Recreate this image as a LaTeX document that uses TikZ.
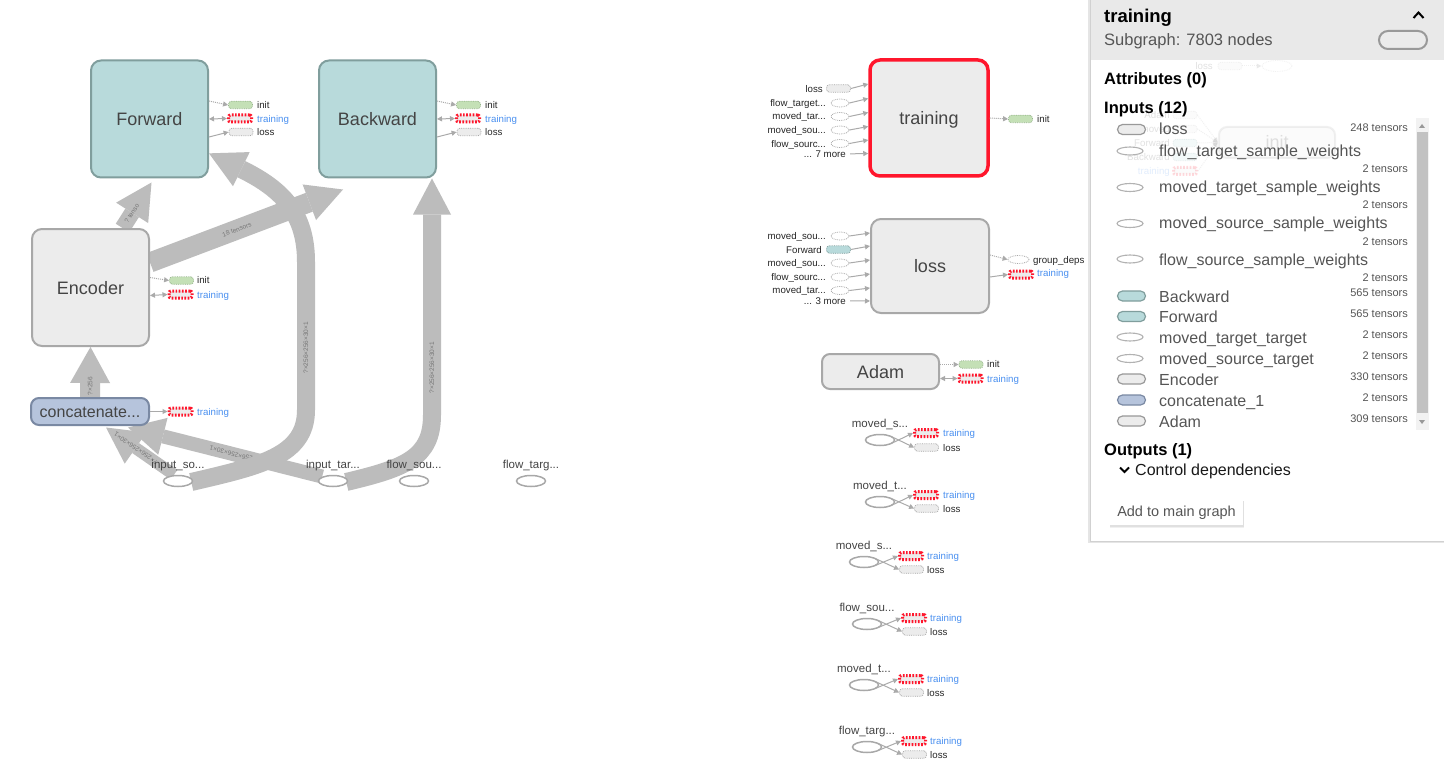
\documentclass[tikz,border=0pt]{standalone}
\usepackage{fontspec}
\setmainfont{Liberation Sans}
\usetikzlibrary{arrows.meta,shapes.geometric,calc,backgrounds}
\newcommand\myfs[1]{\fontsize{#1}{#1}\selectfont}
\definecolor{tealfill}{RGB}{184,218,219}
\definecolor{tealdraw}{RGB}{128,158,157}
\definecolor{greyfill}{RGB}{236,236,236}
\definecolor{greydraw}{RGB}{168,168,168}
\definecolor{catfill}{RGB}{182,196,220}
\definecolor{catdraw}{RGB}{122,137,163}
\definecolor{tred}{RGB}{255,22,44}
\definecolor{tblue}{RGB}{74,144,240}
\definecolor{pgreen}{RGB}{196,224,182}
\definecolor{pgreenb}{RGB}{150,180,140}
\definecolor{band}{RGB}{188,188,188}
\definecolor{txt}{RGB}{68,68,68}
\definecolor{ltxt}{RGB}{85,85,85}
\definecolor{sarrow}{RGB}{170,170,170}
\definecolor{hdr}{RGB}{233,233,233}
\definecolor{elab}{RGB}{120,120,120}
\tikzset{
  bigbox/.style={rectangle, rounded corners=10pt, minimum width=117pt, minimum height=117pt, line width=2pt, font=\myfs{18}, text=txt, inner sep=0pt, text height=13pt, text depth=0pt},
  tealbox/.style={bigbox, fill=tealfill, draw=tealdraw},
  greybox/.style={bigbox, fill=greyfill, draw=greydraw},
  gpill/.style={rectangle, rounded corners=3pt, minimum width=24pt, minimum height=7.5pt, inner sep=0pt, fill=pgreen, draw=pgreenb, densely dotted, line width=0.8pt},
  tpill/.style={gpill, fill=tealfill, draw=tealdraw},
  lpill/.style={gpill, fill=greyfill, draw=greydraw},
  rpill/.style={rectangle, rounded corners=2pt, minimum width=23pt, minimum height=7pt, inner sep=0pt, fill=greyfill, draw=tred, line width=3pt, dash pattern=on 1.7pt off 1.5pt},
  dell/.style={ellipse, minimum width=18pt, minimum height=8pt, inner sep=0pt, draw=greydraw, densely dotted, line width=0.8pt, fill=white},
  bell/.style={ellipse, minimum width=29pt, minimum height=11pt, inner sep=0pt, draw=greydraw, line width=1.5pt, fill=white},
  slbl/.style={inner sep=0pt, font=\myfs{9.7}, text=black!85, anchor=mid west},
  tlbl/.style={slbl, text=tblue},
  rlbl/.style={inner sep=0pt, font=\myfs{9.7}, text=black!85, anchor=mid east},
  glbl/.style={inner sep=0pt, font=\myfs{11.5}, text=txt, anchor=mid},
  sarr/.style={draw=sarrow, line width=1pt, -{Triangle[length=5pt,width=5pt]}},
  sdot/.style={sarr, densely dotted},
  sbi/.style={draw=sarrow, line width=1pt, {Triangle[length=5pt,width=5pt]}-{Triangle[length=5pt,width=5pt]}},
  bigedge/.style={draw=band, line width=18pt, -{Triangle[length=36pt,width=38pt,line width=0pt]}},
  elbl/.style={sloped, inner sep=0pt, font=\myfs{6.5}, text=elab},
  prow/.style={inner sep=0pt, font=\myfs{16}, text=ltxt, anchor=mid west},
  pcount/.style={inner sep=0pt, font=\myfs{11}, text=ltxt, anchor=mid east},
  phead/.style={inner sep=0pt, font=\bfseries\myfs{16.5}, text=black, anchor=mid west},
  picon/.style={rectangle, rounded corners=5pt, minimum width=28pt, minimum height=10pt, inner sep=0pt, line width=1.2pt, fill=greyfill, draw=black!40},
  pell/.style={ellipse, minimum width=26pt, minimum height=8pt, inner sep=0pt, line width=1.1pt, fill=white, draw=black!30},
}
\begin{document}
\begin{tikzpicture}[x=1pt,y=-1pt]
\useasboundingbox (0,0) rectangle (1444,773);

% ---------- left graph: main nodes
\node[tealbox] (fwd) at (149.5,119) {Forward};
\node[tealbox] (bwd) at (377.5,119) {Backward};
\node[greybox] (enc) at (90.5,287.5) {Encoder};
\node[bigbox, fill=catfill, draw=catdraw, rounded corners=8pt, minimum width=118pt, minimum height=27pt, font=\myfs{16}, text height=11.5pt] (cat) at (90,411.5) {concatenate...};

\node[bell] (isrc) at (178,481) {};
\node[glbl] (isrcl) at (178,466) {input\_so...};
\node[bell] (itar) at (333,481) {};
\node[glbl] (itarl) at (333,466) {input\_tar...};
\node[bell] (fsrc) at (414,481) {};
\node[glbl] (fsrcl) at (414,466) {flow\_sou...};
\node[bell] (ftar) at (531,481) {};
\node[glbl] (ftarl) at (531,466) {flow\_targ...};

% annotations of Forward
\node[gpill] (fgp) at (240.5,105) {};
\node[rpill] (frp) at (240,118.5) {};
\node[lpill] (flp) at (241,132) {};
\draw[sdot] ($(fwd.east)+(0,-18)$) -- (fgp.west);
\draw[sbi] (fwd.east) -- (frp.west);
\draw[sarr] ($(fwd.east)+(0,18)$) -- (flp.west);
\node[slbl] (fgpl) at (257,105.5) {init};
\node[tlbl] (frpl) at (257,119.5) {training};
\node[slbl] (flpl) at (257,133) {loss};

% annotations of Backward
\node[gpill] (bgp) at (468.5,105) {};
\node[rpill] (brp) at (468,118.5) {};
\node[lpill] (blp) at (469,132) {};
\draw[sdot] ($(bwd.east)+(0,-18)$) -- (bgp.west);
\draw[sbi] (bwd.east) -- (brp.west);
\draw[sarr] ($(bwd.east)+(0,18)$) -- (blp.west);
\node[slbl] (bgpl) at (485,105.5) {init};
\node[tlbl] (brpl) at (485,119.5) {training};
\node[slbl] (blpl) at (485,133) {loss};

% annotations of Encoder
\node[gpill] (egp) at (181.5,280.5) {};
\node[rpill] (erp) at (180.5,294.5) {};
\draw[sdot] ($(enc.east)+(0,-10)$) -- (egp.west);
\draw[sbi] ($(enc.east)+(0,8)$) -- (erp.west);
\node[slbl] (egpl) at (197,281) {init};
\node[tlbl] (erpl) at (197,295.5) {training};

% annotation of concatenate
\node[rpill] (crp) at (180.5,411.5) {};
\draw[sarr] (cat.east) -- (crp.west);
\node[tlbl] (crpl) at (197,412.5) {training};

% ---------- thick edges (background)
\begin{scope}[on background layer]
\fill[white] (0,0) rectangle (1444,773);
\draw[bigedge, line width=12pt] ($(isrc.north)+(-4,0)$) -- node[elbl, allow upside down, pos=0.56]{?×256×256×30×1} ($(cat.south)+(16,1.5)$);
\draw[bigedge, line width=14pt] (itar.north west) -- node[elbl, allow upside down, pos=0.45]{?×256×256×30×1} ($(cat.south)+(38,1.5)$);
\draw[bigedge, line width=20pt, -{Triangle[length=36pt,width=40pt,line width=0pt]}] (cat.north) -- node[elbl, pos=0.22]{?×256} (enc.south);
\draw[bigedge] ($(isrc.east)+(-2,1)$) .. controls (260,466) and (306,456) .. (306,410) -- node[elbl, pos=0.42]{?×256×256×30×1} (306,262) .. controls (306,215) and (284,190) .. (fwd.-30);
\draw[bigedge] ($(itar.east)+(-2,1)$) .. controls (405,468) and (432,458) .. (432,415) -- node[elbl, pos=0.2]{?×256×256×30×1} ($(bwd.south)+(54.5,0)$);
\draw[bigedge, line width=16pt] ($(enc.north)+(32,0)$) -- node[elbl, pos=0.32]{? tenso} ($(fwd.south)+(2,4)$);
\draw[bigedge, line width=20pt] ($(enc.east)+(0,-25)$) -- node[elbl, pos=0.45]{18 tensors} ($(bwd.south west)+(25,11)$);
\end{scope}

% ---------- middle: training, loss, Adam
\node[greybox, draw=tred, line width=3.5pt, minimum width=118pt, minimum height=116pt] (trn) at (929,118) {training};
\node[greybox, minimum width=118pt, minimum height=94pt] (lossb) at (930,266) {loss};
\node[greybox, minimum width=117pt, minimum height=35pt, rounded corners=8pt] (adam) at (880.5,371.5) {Adam};

% inputs of training
\node[lpill] (ti1) at (838.5,88.5) {};
\node[rlbl] (ti1l) at (823,89.5) {loss};
\node[dell] (ti2) at (840,103) {};
\node[rlbl] (ti2l) at (826,103.5) {flow\_target...};
\node[dell] (ti3) at (840,116.5) {};
\node[rlbl] (ti3l) at (826,117) {moved\_tar...};
\node[dell] (ti4) at (840,130) {};
\node[rlbl] (ti4l) at (826,130.5) {moved\_sou...};
\node[dell] (ti5) at (840,143.5) {};
\node[rlbl] (ti5l) at (826,144.5) {flow\_sourc...};
\node[rlbl] (ti6l) at (846,154.5) {... 7 more};
\draw[sarr] (ti1.east) -- ($(trn.west)+(0,-34)$);
\draw[sarr] (ti2.east) -- ($(trn.west)+(0,-19.5)$);
\draw[sarr] (ti3.east) -- ($(trn.west)+(0,-5.5)$);
\draw[sarr] (ti4.east) -- ($(trn.west)+(0,8.5)$);
\draw[sarr] (ti5.east) -- ($(trn.west)+(0,22)$);
\draw[sarr] ([xshift=4pt]ti6l.east) -- ($(trn.west)+(0,35.5)$);
\node[gpill] (tgp) at (1020.5,119) {};
\draw[sdot] (trn.east) -- (tgp.west);
\node[slbl] (tgpl) at (1037,119.5) {init};

% inputs of loss
\node[dell] (li1) at (840,236) {};
\node[rlbl] (li1l) at (826,236.5) {moved\_sou...};
\node[tpill] (li2) at (838.5,249.5) {};
\node[rlbl] (li2l) at (822,250.5) {Forward};
\node[dell] (li3) at (840,263) {};
\node[rlbl] (li3l) at (826,263.5) {moved\_sou...};
\node[dell] (li4) at (840,277) {};
\node[rlbl] (li4l) at (826,277.5) {flow\_sourc...};
\node[dell] (li5) at (840,290.5) {};
\node[rlbl] (li5l) at (826,291) {moved\_tar...};
\node[rlbl] (li6l) at (846,301.5) {... 3 more};
\draw[sarr] (li1.east) -- ($(lossb.west)+(0,-33)$);
\draw[sarr] (li2.east) -- ($(lossb.west)+(0,-20)$);
\draw[sarr] (li3.east) -- ($(lossb.west)+(0,-6)$);
\draw[sarr] (li4.east) -- ($(lossb.west)+(0,8)$);
\draw[sarr] (li5.east) -- ($(lossb.west)+(0,22)$);
\draw[sarr] ([xshift=4pt]li6l.east) -- ($(lossb.west)+(0,35)$);
\node[dell, minimum width=21pt] (gdep) at (1018.5,259.5) {};
\node[rpill] (lrp) at (1021,274.5) {};
\draw[sdot] ($(lossb.east)+(0,-11)$) -- (gdep.west);
\draw[sarr] ($(lossb.east)+(0,11)$) -- (lrp.west);
\node[slbl] (gdepl) at (1033,260.5) {group\_deps};
\node[tlbl] (lrpl) at (1037,273.5) {training};

% Adam
\node[gpill] (agp) at (971,364.5) {};
\node[rpill] (arp) at (970.5,378.5) {};
\draw[sdot] ($(adam.east)+(0,-7)$) -- (agp.west);
\draw[sbi] ($(adam.east)+(0,7)$) -- (arp.west);
\node[slbl] (agpl) at (987,365) {init};
\node[tlbl] (arpl) at (987,379.5) {training};

% small input groups
\foreach \i/\ex/\ey/\lbl/\px/\ry/\gy/\tx in {
  1/880/440/moved\_s/926/433/447.5/943,
  2/880/502/moved\_t/926/495/508.5/943,
  3/864/562/moved\_s/911/556/569.5/927,
  4/867/624/flow\_sou/914/618/631.5/930,
  5/864/685/moved\_t/911/679/692.5/927,
  6/867/747/flow\_targ/914/741/754.5/930}{
  \node[bell] (ge\i) at (\ex,\ey) {};
  \node[glbl] (gl\i) at (\ex,\ey-15) {\lbl...};
  \node[rpill] (gr\i) at (\px,\ry) {};
  \node[lpill] (gg\i) at (\px+0.5,\gy) {};
  \draw[sarr] ($(ge\i.east)+(-4,3.5)$) -- (gr\i.west);
  \draw[sarr] ($(ge\i.east)+(-4,-3.5)$) -- (gg\i.west);
  \node[tlbl] (grl\i) at (\tx,\ry+1) {training};
  \node[slbl] (ggl\i) at (\tx,\gy+1) {loss};
}

% ---------- right panel
\fill[black!10] (1088,0) rectangle (1444,543);
\fill[white] (1090,0) rectangle (1444,541);
\fill[hdr] (1090,0) rectangle (1444,60);

% faint graph seen through the panel
\begin{scope}[opacity=0.16]
\node[rlbl, text=txt] (gh1) at (1213,66.5) {loss};
\node[lpill] (gh2) at (1230,66) {};
\node[dell, minimum width=30pt, minimum height=11pt] (gh3) at (1277,66) {};
\draw[sdot] (gh2.east) -- (gh3.west);
\node[greybox, minimum width=116pt, minimum height=31pt, rounded corners=8pt] (gh4) at (1277,142.5) {init};
\node[rlbl, text=txt] (gh5) at (1170,115.5) {Adam};
\node[lpill] (gh6) at (1185,115) {};
\node[rlbl, text=txt] (gh7) at (1170,129.5) {moved};
\node[lpill] (gh8) at (1185,129) {};
\node[rlbl, text=txt] (gh9) at (1170,143.5) {Forward};
\node[tpill] (gh10) at (1185,143) {};
\node[rlbl, text=txt] (gh11) at (1170,157.5) {Backward};
\node[tpill] (gh12) at (1185,157) {};
\node[rlbl, text=tblue] (gh13) at (1170,171.5) {training};
\node[rpill] (gh14) at (1185,171) {};
\draw[sdot] (gh6.east) -- (gh4.west);
\draw[sdot] (gh8.east) -- (gh4.west);
\draw[sdot] (gh10.east) -- (gh4.west);
\draw[sdot] (gh12.east) -- (gh4.west);
\draw[sdot] (gh14.east) -- (gh4.west);
\end{scope}

\draw[black!18, line width=0.8pt] (1090,0) -- (1090,541) -- (1444,541);

% header
\node[inner sep=0pt, anchor=mid west, font=\bfseries\myfs{18.5}, text=black] (ptitle) at (1104,20) {training};
\node[inner sep=0pt, anchor=mid west, font=\myfs{16.5}, text=ltxt] (psub) at (1104,43) {Subgraph: 7803 nodes};
\draw[black, line width=2pt] (1413.5,18) -- (1418.5,12.5) -- (1423.5,18);
\node[rectangle, rounded corners=9pt, minimum width=48pt, minimum height=18pt, inner sep=0pt, fill=black!8, draw=black!40, line width=2pt] (ppill) at (1403,40) {};

\node[phead] (pattr) at (1104,82) {Attributes (0)};
\node[phead] (pinp) at (1104,111) {Inputs (12)};

% scrollbar
\fill[black!5] (1416,118) rectangle (1429,430);
\fill[black!24] (1417,132) rectangle (1428,413);
\fill[black!40] (1419,128) -- (1425,128) -- (1422,124) -- cycle;
\fill[black!40] (1419,420) -- (1425,420) -- (1422,424) -- cycle;

% rows
\node[picon] (r1i) at (1131.5,129.5) {};
\node[prow] (r1t) at (1159,132) {loss};
\node[pcount] (r1c) at (1408,129) {248 tensors};
\node[pell] (r2i) at (1130,151) {};
\node[prow] (r2t) at (1159,153.5) {flow\_target\_sample\_weights};
\node[pcount] (r2c) at (1408,170) {2 tensors};
\node[pell] (r3i) at (1130,187.5) {};
\node[prow] (r3t) at (1159,190) {moved\_target\_sample\_weights};
\node[pcount] (r3c) at (1408,206) {2 tensors};
\node[pell] (r4i) at (1130,223.5) {};
\node[prow] (r4t) at (1159,226) {moved\_source\_sample\_weights};
\node[pcount] (r4c) at (1408,242.5) {2 tensors};
\node[pell] (r5i) at (1130,259) {};
\node[prow] (r5t) at (1159,262.5) {flow\_source\_sample\_weights};
\node[pcount] (r5c) at (1408,279) {2 tensors};
\node[picon, fill=tealfill, draw=tealdraw] (r6i) at (1131.5,296) {};
\node[prow] (r6t) at (1159,299.5) {Backward};
\node[pcount] (r6c) at (1408,294) {565 tensors};
\node[picon, fill=tealfill, draw=tealdraw] (r7i) at (1131.5,316.5) {};
\node[prow] (r7t) at (1159,320) {Forward};
\node[pcount] (r7c) at (1408,315) {565 tensors};
\node[pell] (r8i) at (1130,337) {};
\node[prow] (r8t) at (1159,340.5) {moved\_target\_target};
\node[pcount] (r8c) at (1408,336) {2 tensors};
\node[pell] (r9i) at (1130,358.5) {};
\node[prow] (r9t) at (1159,362) {moved\_source\_target};
\node[pcount] (r9c) at (1408,357) {2 tensors};
\node[picon] (r10i) at (1131.5,379) {};
\node[prow] (r10t) at (1159,383) {Encoder};
\node[pcount] (r10c) at (1408,378) {330 tensors};
\node[picon, fill=catfill, draw=catdraw] (r11i) at (1131.5,400) {};
\node[prow] (r11t) at (1159,404) {concatenate\_1};
\node[pcount] (r11c) at (1408,399) {2 tensors};
\node[picon] (r12i) at (1131.5,421) {};
\node[prow] (r12t) at (1159,424.5) {Adam};
\node[pcount] (r12c) at (1408,420) {309 tensors};

\node[phead] (pout) at (1104,453) {Outputs (1)};
\draw[black, line width=1.8pt] (1120,467.5) -- (1124.5,472) -- (1129,467.5);
\node[inner sep=0pt, anchor=mid west, font=\myfs{16}, text=black!90] (pctrl) at (1135,473) {Control dependencies};

% button
\fill[black!6] (1110,501) rectangle (1244,527.5);
\fill[black!12] (1110,500.5) rectangle (1243.5,526.5);
\node[rectangle, minimum width=133pt, minimum height=25pt, inner sep=0pt, fill=white, font=\myfs{14.5}, text=ltxt, text height=10.5pt, text depth=3pt] (pbtn) at (1176.5,512.5) {Add to main graph};
\end{tikzpicture}
\end{document}
